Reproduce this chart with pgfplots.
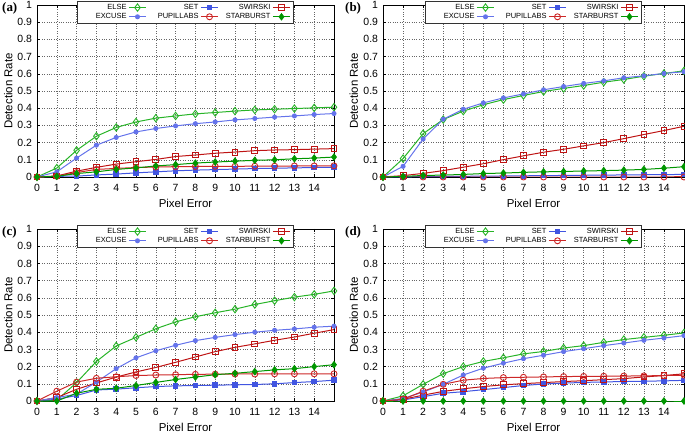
\documentclass[border=0pt]{standalone}
\usepackage{pgfplots}
\usepackage{pgfplotstable}
\pgfplotsset{compat=1.18}
\usepackage{fontspec}
\setmainfont{Liberation Sans}
\newfontfamily\panelfont{Liberation Serif}

\definecolor{elsegreen}{RGB}{40,180,40}
\definecolor{stargreen}{RGB}{0,150,0}
\definecolor{excuseblue}{RGB}{100,115,235}
\definecolor{setblue}{RGB}{65,85,225}
\definecolor{swred}{RGB}{190,20,20}
\definecolor{pupred}{RGB}{205,40,40}

\pgfplotstableread{
x else excuse set pupil swirski star
0 0 0 0 0 0 0
1 0.052 0.030 0.004 0.004 0.006 0.004
2 0.155 0.110 0.005 0.026 0.034 0.020
3 0.237 0.185 0.012 0.044 0.056 0.030
4 0.288 0.230 0.017 0.050 0.075 0.044
5 0.320 0.262 0.024 0.055 0.089 0.053
6 0.342 0.282 0.030 0.058 0.102 0.064
7 0.355 0.297 0.036 0.060 0.119 0.072
8 0.367 0.310 0.040 0.061 0.128 0.081
9 0.375 0.320 0.043 0.062 0.138 0.087
10 0.383 0.332 0.046 0.062 0.145 0.092
11 0.390 0.340 0.049 0.063 0.153 0.097
12 0.394 0.348 0.051 0.063 0.157 0.100
13 0.398 0.355 0.053 0.064 0.159 0.106
14 0.402 0.363 0.055 0.064 0.162 0.110
15 0.406 0.369 0.057 0.065 0.165 0.116
}\dataA

\pgfplotstableread{
x else excuse set pupil swirski star
0 0 0 0 0 0 0
1 0.107 0.062 0.001 0.000 0.008 0.003
2 0.252 0.221 0.002 0.000 0.021 0.009
3 0.334 0.336 0.003 0.000 0.037 0.011
4 0.383 0.394 0.004 0.000 0.057 0.015
5 0.420 0.431 0.005 0.000 0.077 0.020
6 0.450 0.460 0.006 0.000 0.101 0.023
7 0.474 0.483 0.007 0.000 0.123 0.027
8 0.497 0.507 0.008 0.000 0.144 0.030
9 0.515 0.526 0.009 0.000 0.161 0.032
10 0.532 0.544 0.010 0.000 0.181 0.035
11 0.551 0.559 0.011 0.000 0.200 0.037
12 0.567 0.577 0.012 0.000 0.223 0.040
13 0.586 0.588 0.013 0.000 0.247 0.044
14 0.602 0.602 0.014 0.000 0.270 0.051
15 0.617 0.612 0.015 0.000 0.295 0.060
}\dataB

\pgfplotstableread{
x else excuse set pupil swirski star
0 0 0 0 0 0 0
1 0.005 0.020 0.010 0.057 0.020 0.000
2 0.107 0.040 0.032 0.110 0.068 0.045
3 0.230 0.110 0.064 0.132 0.105 0.068
4 0.320 0.188 0.069 0.141 0.139 0.074
5 0.370 0.251 0.077 0.148 0.169 0.090
6 0.420 0.292 0.084 0.151 0.195 0.108
7 0.460 0.324 0.088 0.153 0.225 0.125
8 0.490 0.351 0.090 0.155 0.256 0.139
9 0.513 0.370 0.092 0.156 0.287 0.153
10 0.534 0.386 0.094 0.157 0.312 0.161
11 0.561 0.400 0.096 0.157 0.332 0.171
12 0.583 0.411 0.100 0.158 0.353 0.181
13 0.604 0.419 0.107 0.158 0.372 0.188
14 0.620 0.429 0.113 0.158 0.394 0.200
15 0.640 0.435 0.121 0.158 0.415 0.211
}\dataC

\pgfplotstableread{
x else excuse set pupil swirski star
0 0 0 0 0 0 0
1 0.030 0.015 0.006 0.010 0.010 0
2 0.097 0.052 0.025 0.057 0.034 0
3 0.159 0.097 0.045 0.097 0.056 0
4 0.200 0.151 0.054 0.121 0.071 0
5 0.230 0.191 0.066 0.131 0.084 0
6 0.251 0.220 0.078 0.136 0.094 0
7 0.274 0.246 0.090 0.138 0.101 0
8 0.288 0.266 0.099 0.140 0.107 0
9 0.308 0.287 0.104 0.142 0.113 0
10 0.322 0.304 0.108 0.143 0.118 0
11 0.341 0.322 0.111 0.144 0.124 0
12 0.357 0.337 0.113 0.145 0.130 0
13 0.370 0.353 0.115 0.146 0.140 0
14 0.382 0.366 0.117 0.148 0.148 0
15 0.396 0.380 0.120 0.150 0.158 0
}\dataD

\pgfplotsset{
  panel/.style={
    scale only axis, height=172bp,
    xmin=0, xmax=15, ymin=0, ymax=1,
    xtick={0,1,2,3,4,5,6,7,8,9,10,11,12,13,14},
    ytick={0,0.1,0.2,0.3,0.4,0.5,0.6,0.7,0.8,0.9,1},
    yticklabels={0,0.1,0.2,0.3,0.4,0.5,0.6,0.7,0.8,0.9,1},
    grid=major,
    grid style={black!60, dotted, line width=0.5bp},
    axis line style={line width=0.9bp},
    tick align=inside, major tick length=3bp,
    tick style={black, line width=0.5bp},
    ticklabel style={font=\fontsize{10.5}{12}\selectfont},
    /pgf/number format/assume math mode=true,
    xticklabel style={yshift=-4bp},
    yticklabel style={xshift=-1.5bp},
    xlabel={Pixel Error}, ylabel={Detection Rate},
    label style={font=\fontsize{11.5}{13}\selectfont},
    xlabel style={at={(axis description cs:0.5,-0.151)}, anchor=center},
    ylabel style={at={(axis description cs:-0.097,0.5)}, anchor=center, rotate=0},
    clip=false,
    legend columns=3, legend plot pos=right, legend cell align=right,
    legend style={at={(0.5,1)}, anchor=north, yshift=4bp,
      font=\fontsize{7.5}{8}\selectfont, draw=black!80, line width=0.5bp,
      fill=white, inner xsep=3bp, inner ysep=1bp, row sep=-1.5bp,
      /tikz/every even column/.append style={column sep=6bp}},
  },
  sElse/.style={elsegreen, line width=1bp, mark=diamond, mark size=3.7bp, mark options={solid, line width=0.9bp}},
  sSet/.style={setblue, line width=1bp, mark=square*, mark size=2.3bp, mark options={solid}},
  sSw/.style={swred, line width=1bp, mark=square, mark size=2.9bp, mark options={solid, line width=0.9bp}},
  sExc/.style={excuseblue, line width=1bp, mark=*, mark size=2bp, mark options={solid}},
  sPup/.style={pupred, line width=1bp, mark=o, mark size=3bp, mark options={solid, line width=0.9bp}},
  sStar/.style={stargreen, line width=1bp, mark=diamond*, mark size=3.1bp, mark options={solid}},
}

\newcommand\panelplots[1]{%
  \addplot[sElse] table[x=x,y=else]{#1}; \addlegendentry{\makebox[44bp][r]{ELSE}}
  \addplot[sSet] table[x=x,y=set]{#1}; \addlegendentry{\makebox[44bp][r]{SET}}
  \addplot[sSw] table[x=x,y=swirski]{#1}; \addlegendentry{\makebox[44bp][r]{SWIRSKI}}
  \addplot[sExc] table[x=x,y=excuse]{#1}; \addlegendentry{\makebox[44bp][r]{EXCUSE}}
  \addplot[sPup] table[x=x,y=pupil]{#1}; \addlegendentry{\makebox[44bp][r]{PUPILLABS}}
  \addplot[sStar] table[x=x,y=star]{#1}; \addlegendentry{\makebox[44bp][r]{STARBURST}}
}

\begin{document}
\begin{tikzpicture}
\path[use as bounding box] (0,0) rectangle (685bp,435bp);

\begin{axis}[panel, width=297bp, at={(37bp,258bp)}, anchor=south west]
\panelplots{\dataA}
\end{axis}

\begin{axis}[panel, width=301bp, at={(383bp,258bp)}, anchor=south west]
\panelplots{\dataB}
\end{axis}

\begin{axis}[panel, width=297bp, at={(37bp,34bp)}, anchor=south west]
\panelplots{\dataC}
\end{axis}

\begin{axis}[panel, width=301bp, at={(383bp,34bp)}, anchor=south west]
\panelplots{\dataD}
\end{axis}

\node[anchor=west, inner sep=0pt, font=\panelfont\bfseries\fontsize{13}{14}\selectfont] at (2bp,427bp) {(a)};
\node[anchor=west, inner sep=0pt, font=\panelfont\bfseries\fontsize{13}{14}\selectfont] at (345bp,427bp) {(b)};
\node[anchor=west, inner sep=0pt, font=\panelfont\bfseries\fontsize{13}{14}\selectfont] at (2bp,203bp) {(c)};
\node[anchor=west, inner sep=0pt, font=\panelfont\bfseries\fontsize{13}{14}\selectfont] at (345bp,203bp) {(d)};
\end{tikzpicture}
\end{document}
